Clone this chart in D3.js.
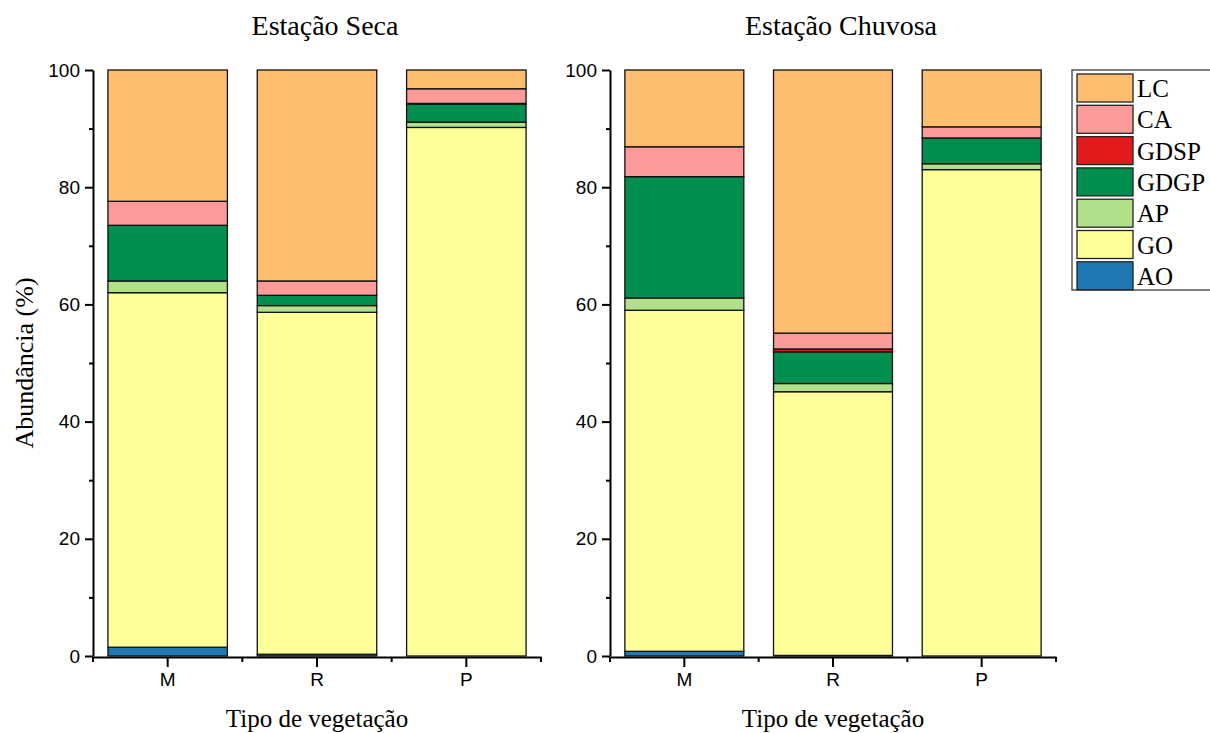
<!DOCTYPE html>
<html><head><meta charset="utf-8">
<script src="https://cdn.jsdelivr.net/npm/d3@7"></script>
<style>body{margin:0;background:#fff}</style>
</head><body>
<svg id="chart" width="1210" height="733"></svg>
<script>
const categories = ["M", "R", "P"];
const seriesKeys = ["AO", "GO", "AP", "GDGP", "GDSP", "CA", "LC"];
const legendOrder = ["LC", "CA", "GDSP", "GDGP", "AP", "GO", "AO"];
const colors = ["#1f78b4", "#ffff99", "#b2df8a", "#008f4f", "#e31a1c", "#fb9a99", "#fdbf6f"];
const yTicks = [0, 20, 40, 60, 80, 100];

// Estação Seca values (M, R, P)
const secaAO   = [1.5, 0.3, 0];
const secaGO   = [60.5, 58.35, 90.2];
const secaAP   = [2.0, 1.15, 0.9];
const secaGDGP = [9.5, 1.75, 3.1];
const secaGDSP = [0, 0, 0.1];
const secaCA   = [4.1, 2.45, 2.5];
const secaLC   = [22.4, 36.0, 3.2];

// Estação Chuvosa values (M, R, P)
const chuvAO   = [0.8, 0.1, 0];
const chuvGO   = [58.2, 45.0, 83.0];
const chuvAP   = [2.1, 1.4, 1.0];
const chuvGDGP = [20.7, 5.4, 4.4];
const chuvGDSP = [0, 0.5, 0];
const chuvCA   = [5.1, 2.7, 1.9];
const chuvLC   = [13.1, 44.9, 9.7];

const panels = [
  {title: "Estação Seca", x0: 93, x1: 541,
   vals: {AO: secaAO, GO: secaGO, AP: secaAP, GDGP: secaGDGP, GDSP: secaGDSP, CA: secaCA, LC: secaLC}},
  {title: "Estação Chuvosa", x0: 610, x1: 1056,
   vals: {AO: chuvAO, GO: chuvGO, AP: chuvAP, GDGP: chuvGDGP, GDSP: chuvGDSP, CA: chuvCA, LC: chuvLC}}
];

const svg = d3.select("#chart");
const color = d3.scaleOrdinal().domain(seriesKeys).range(colors);
const y = d3.scaleLinear().domain([0, 100]).range([656, 70]);
const serif = "'Liberation Serif','Times New Roman',serif";
const sans = "'Liberation Sans',Arial,sans-serif";

panels.forEach((p, pi) => {
  const g = svg.append("g");
  const x = d3.scaleBand().domain(categories).range([p.x0, p.x1]).paddingInner(0.2).paddingOuter(0.1);
  const rows = categories.map((c, i) => {
    const r = {cat: c};
    seriesKeys.forEach(k => r[k] = p.vals[k][i]);
    return r;
  });
  const stacked = d3.stack().keys(seriesKeys)(rows);
  g.selectAll("g.layer").data(stacked).join("g").attr("class", "layer")
    .attr("fill", d => color(d.key))
    .selectAll("rect").data(d => d.filter(s => s[1] - s[0] > 0)).join("rect")
    .attr("x", d => x(d.data.cat))
    .attr("width", x.bandwidth())
    .attr("y", d => y(d[1]))
    .attr("height", d => Math.max(0, y(d[0]) - y(d[1])))
    .attr("stroke", "#111")
    .attr("stroke-width", 1.3);

  // Y axis
  const yAxis = d3.axisLeft(y).tickValues(yTicks).tickSize(8).tickPadding(5).tickSizeOuter(0);
  const ya = g.append("g").attr("transform", `translate(${p.x0},0)`).call(yAxis);
  ya.select(".domain").attr("stroke-width", 2);
  ya.selectAll(".tick line").attr("stroke-width", 2);
  ya.selectAll("text").attr("font-family", sans).attr("font-size", 19).attr("fill", "#000");
  const yMinor = d3.axisLeft(y).tickValues([10, 30, 50, 70, 90]).tickSize(4).tickFormat("");
  const ym = g.append("g").attr("transform", `translate(${p.x0},0)`).call(yMinor);
  ym.select(".domain").remove();
  ym.selectAll(".tick line").attr("stroke-width", 2);

  // X axis
  const xAxis = d3.axisBottom(x).tickSize(10).tickPadding(6).tickSizeOuter(0);
  const xa = g.append("g").attr("transform", `translate(0,657)`).call(xAxis);
  xa.select(".domain").attr("stroke-width", 2);
  xa.selectAll(".tick line").attr("stroke-width", 2);
  xa.selectAll("text").attr("font-family", sans).attr("font-size", 19).attr("fill", "#000");
  // minor ticks at band boundaries
  const bounds = [0, 1, 2, 3].map(i => p.x0 + i * (p.x1 - p.x0) / 3);
  g.selectAll("line.xminor").data(bounds).join("line").attr("class", "xminor")
    .attr("x1", d => d).attr("x2", d => d).attr("y1", 657).attr("y2", 662)
    .attr("stroke", "#000").attr("stroke-width", 2);

  // titles
  g.append("text").attr("x", (p.x0 + p.x1) / 2 + 8).attr("y", 35)
    .attr("text-anchor", "middle").attr("font-family", serif).attr("font-size", 28)
    .text(p.title);
  g.append("text").attr("x", (p.x0 + p.x1) / 2).attr("y", 727)
    .attr("text-anchor", "middle").attr("font-family", serif).attr("font-size", 25)
    .text("Tipo de vegetação");
});

svg.append("text").attr("transform", "translate(33,363) rotate(-90)")
  .attr("text-anchor", "middle").attr("font-family", serif).attr("font-size", 26)
  .text("Abundância (%)");

// legend
const lg = svg.append("g");
lg.append("rect").attr("x", 1072).attr("y", 70).attr("width", 150).attr("height", 220)
  .attr("fill", "#fff").attr("stroke", "#555").attr("stroke-width", 1.5);
legendOrder.forEach((k, i) => {
  const yy = 74 + i * 31.3;
  lg.append("rect").attr("x", 1077).attr("y", yy).attr("width", 56).attr("height", 28)
    .attr("fill", color(k)).attr("stroke", "#222").attr("stroke-width", 1.3);
  lg.append("text").attr("x", 1137).attr("y", yy + 23).attr("font-family", serif)
    .attr("font-size", 25).text(k);
});
</script>
</body></html>
